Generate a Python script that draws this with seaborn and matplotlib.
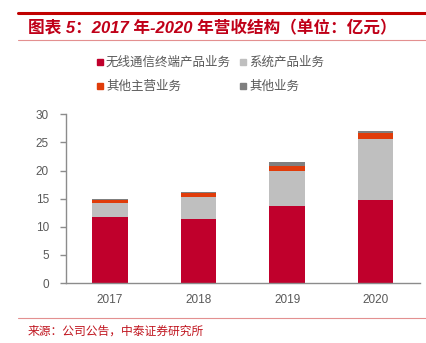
import matplotlib
matplotlib.use("Agg")
import matplotlib.pyplot as plt
from matplotlib.lines import Line2D
from matplotlib.patches import Rectangle
import seaborn as sns
import pandas as pd

years = ["2017", "2018", "2019", "2020"]
terminal = [11.7, 11.4, 13.7, 14.75]      # 无线通信终端产品业务
system = [2.6, 3.85, 6.2, 10.8]           # 系统产品业务
other_main = [0.5, 0.75, 0.85, 1.2]       # 其他主营业务
other = [0.1, 0.2, 0.7, 0.25]             # 其他业务

series_names = ["无线通信终端产品业务", "系统产品业务", "其他主营业务", "其他业务"]
series_colors = ["#C0002C", "#BFBFBF", "#E03C0A", "#7F7F7F"]

sns.set_theme(style="white")
plt.rcParams["font.family"] = ["Noto Sans CJK SC", "DejaVu Sans"]

df = pd.DataFrame({"year": years, "s0": terminal, "s1": system,
                   "s2": other_main, "s3": other})
cols = ["s0", "s1", "s2", "s3"]
cum = df[cols].cumsum(axis=1)

fig = plt.figure(figsize=(4.27, 3.43), dpi=100)
ax = fig.add_axes([65.7 / 427, 1 - 283 / 343, (420 - 65.7) / 427, (283 - 114.3) / 343])

# stacked bars: draw cumulative heights from the top segment downward
for i in range(len(cols) - 1, -1, -1):
    sns.barplot(x=df["year"], y=cum[cols[i]], ax=ax, color=series_colors[i],
                saturation=1, width=0.4, linewidth=0)

ax.set_xlim(-0.5, 3.5)
ax.set_ylim(0, 30)
ax.set_yticks([0, 5, 10, 15, 20, 25, 30])
ax.set_xlabel("")
ax.set_ylabel("")
for s in ["top", "right"]:
    ax.spines[s].set_visible(False)
for s in ["left", "bottom"]:
    ax.spines[s].set_color("#8C8C8C")
    ax.spines[s].set_linewidth(1.0)

tick_font = dict(family="Liberation Sans", size=8.5, color="#595959")
ax.set_xticks([0, 1, 2, 3])
ax.set_xticklabels(years, **tick_font)
ax.set_yticklabels([str(v) for v in [0, 5, 10, 15, 20, 25, 30]], **tick_font)
ax.set_xticks([-0.5, 0.5, 1.5, 2.5, 3.5], minor=True)
ax.tick_params(axis="x", which="major", length=0, pad=8)
ax.tick_params(axis="x", which="minor", length=4, width=1, color="#8C8C8C", direction="out")
ax.tick_params(axis="y", which="major", length=4, width=1, color="#8C8C8C", direction="out", pad=8, left=True)

# legend laid out in two rows
legend_items = [(0, 97, 62), (1, 240, 62), (2, 97, 86), (3, 240, 86)]
for idx, px, py in legend_items:
    fig.patches.append(Rectangle((px / 427, 1 - (py + 3) / 343), 6 / 427, 6 / 343,
                                 transform=fig.transFigure, color=series_colors[idx],
                                 figure=fig))
    fig.text((px + 9) / 427, 1 - py / 343, series_names[idx], fontsize=9,
             color="#595959", va="center", ha="left")

# header and footer rules
fig.add_artist(Line2D([18 / 427, 1], [1 - 13 / 343] * 2, color="#C00000", lw=2.2,
                      transform=fig.transFigure))
fig.add_artist(Line2D([18 / 427, 1], [1 - 40 / 343] * 2, color="#E39090", lw=0.8,
                      transform=fig.transFigure))
fig.add_artist(Line2D([18 / 427, 1], [1 - 318 / 343] * 2, color="#E39090", lw=0.8,
                      transform=fig.transFigure))

fig.text(28 / 427, 1 - 28 / 343, "图表 5：2017 年-2020 年营收结构（单位：亿元）",
         family=["Liberation Sans", "Noto Sans CJK SC"], fontsize=12,
         fontweight="bold", style="italic", color="#C00018", va="center", ha="left")
fig.text(28 / 427, 1 - 331 / 343, "来源：公司公告，中泰证券研究所", fontsize=8.5,
         color="#C0141E", va="center", ha="left")

fig.savefig("out.png", dpi=100)
